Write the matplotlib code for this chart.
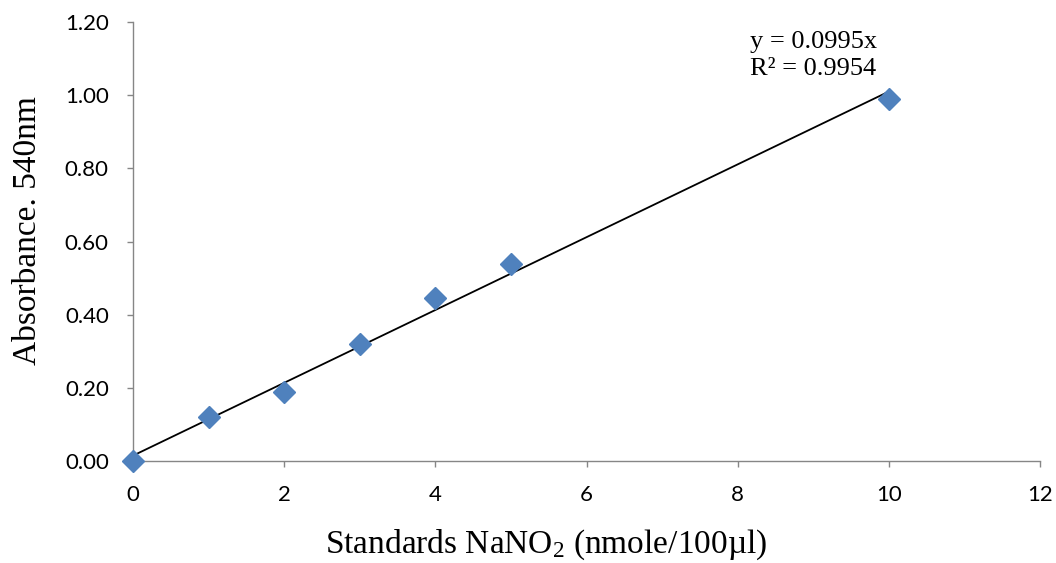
import matplotlib
matplotlib.use("Agg")
import matplotlib.pyplot as plt
import numpy as np

x_vals = [0, 1, 2, 3, 4, 5, 10]
y_vals = [0.0, 0.120, 0.189, 0.32, 0.445, 0.538, 0.989]
slope = 0.0995
intercept = 0.015
x_ticks = [0, 2, 4, 6, 8, 10, 12]
y_ticks = [0.0, 0.2, 0.4, 0.6, 0.8, 1.0, 1.2]
eq_text = "y = 0.0995x\nR² = 0.9954"

plt.rcParams["mathtext.fontset"] = "custom"
plt.rcParams["mathtext.rm"] = "Liberation Serif"
plt.rcParams["mathtext.it"] = "Liberation Serif:italic"

fig = plt.figure(figsize=(10.56, 5.63), dpi=100)
ax = fig.add_axes([0.126, 0.181, 0.859, 0.780])

xl = np.array([0, 10])
ax.plot(xl, slope * xl + intercept, color="black", lw=1.3, zorder=2)
ax.plot(x_vals, y_vals, linestyle="none", marker="D", markersize=11,
        color="#4F81BD", markeredgecolor="#4F81BD", zorder=3, clip_on=False)

ax.set_xlim(0, 12)
ax.set_ylim(0, 1.2)
ax.set_xticks(x_ticks)
ax.set_yticks(y_ticks)
ax.set_yticklabels([f"{v:.2f}" for v in y_ticks])
for s in ["top", "right"]:
    ax.spines[s].set_visible(False)
for s in ["left", "bottom"]:
    ax.spines[s].set_color("#868686")
    ax.spines[s].set_linewidth(1.0)
ax.tick_params(direction="out", length=4.5, color="#868686", width=1.0,
               labelsize=16)
ax.tick_params(axis="y", pad=13)
ax.tick_params(axis="x", pad=13)
for lab in ax.get_xticklabels() + ax.get_yticklabels():
    lab.set_fontfamily("Lato")

ax.set_xlabel("Standards NaNO$_2$ (nmole/100µl)", fontfamily="Liberation Serif",
              fontsize=24)
ax.xaxis.set_label_coords(0.455, -0.152)
ax.set_ylabel("Absorbance. 540nm", fontfamily="Liberation Serif", fontsize=24)
ax.yaxis.set_label_coords(-0.099, 0.526)
ax.text(8.16, 1.175, eq_text, fontfamily="Liberation Serif", fontsize=19,
        va="top", ha="left", linespacing=1.3)

fig.savefig("out.png", dpi=100)
